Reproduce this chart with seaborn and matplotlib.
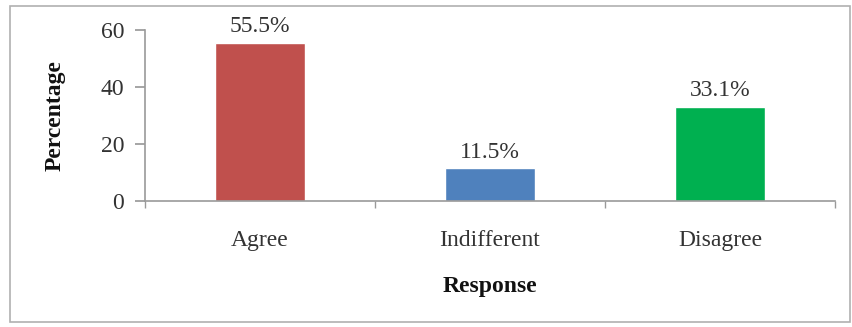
import matplotlib
matplotlib.use("Agg")
import matplotlib.pyplot as plt
import seaborn as sns
import pandas as pd
from matplotlib.patches import Rectangle

categories = ["Agree", "Indifferent", "Disagree"]
percentages = [55.5, 11.5, 33.1]
bar_colors = ["#C0504D", "#4F81BD", "#00B050"]
y_ticks = [0, 20, 40, 60]

sns.set_theme(style="white")
plt.rcParams["font.family"] = ["Liberation Serif", "DejaVu Serif"]

df = pd.DataFrame({"Response": categories, "Percentage": percentages})

fig = plt.figure(figsize=(8.52, 3.27), dpi=100)
ax = fig.add_axes([0.170, 0.385, 0.810, 0.523])

sns.barplot(data=df, x="Response", y="Percentage", hue="Response",
            palette=bar_colors, width=0.39, legend=False, ax=ax,
            saturation=1)

for i, v in enumerate(percentages):
    ax.annotate(f"{v}%", (i, v), xytext=(0, 4), textcoords="offset points",
                ha="center", va="bottom", fontsize=17, color="#333333")

ax.set_ylim(0, 60)
ax.set_yticks(y_ticks)
ax.set_xlim(-0.5, 2.5)
ax.set_xticks([-0.5, 0.5, 1.5, 2.5], minor=True)

sns.despine(ax=ax, top=True, right=True)
for side in ("left", "bottom"):
    ax.spines[side].set_color("#9a9a9a")
    ax.spines[side].set_linewidth(1.2)

ax.tick_params(axis="y", which="major", direction="out", length=7,
               color="#9a9a9a", labelsize=17, labelcolor="#333333", pad=8, left=True)
ax.tick_params(axis="x", which="major", length=0, labelsize=17,
               labelcolor="#333333", pad=21)
ax.tick_params(axis="x", which="minor", direction="out", length=5,
               color="#9a9a9a", bottom=True)

ax.set_ylabel("Percentage", fontsize=17, fontweight="bold", color="#111111")
ax.set_xlabel("Response", fontsize=17, fontweight="bold", color="#111111")
ax.yaxis.set_label_coords(-0.115, 0.5)
ax.xaxis.set_label_coords(0.5, -0.44)

fig.patches.append(Rectangle((10 / 852, 5 / 327), 840 / 852, 316 / 327,
                             transform=fig.transFigure, fill=False,
                             edgecolor="#b0b0b0", linewidth=1.2))

fig.savefig("out.png", dpi=100)
